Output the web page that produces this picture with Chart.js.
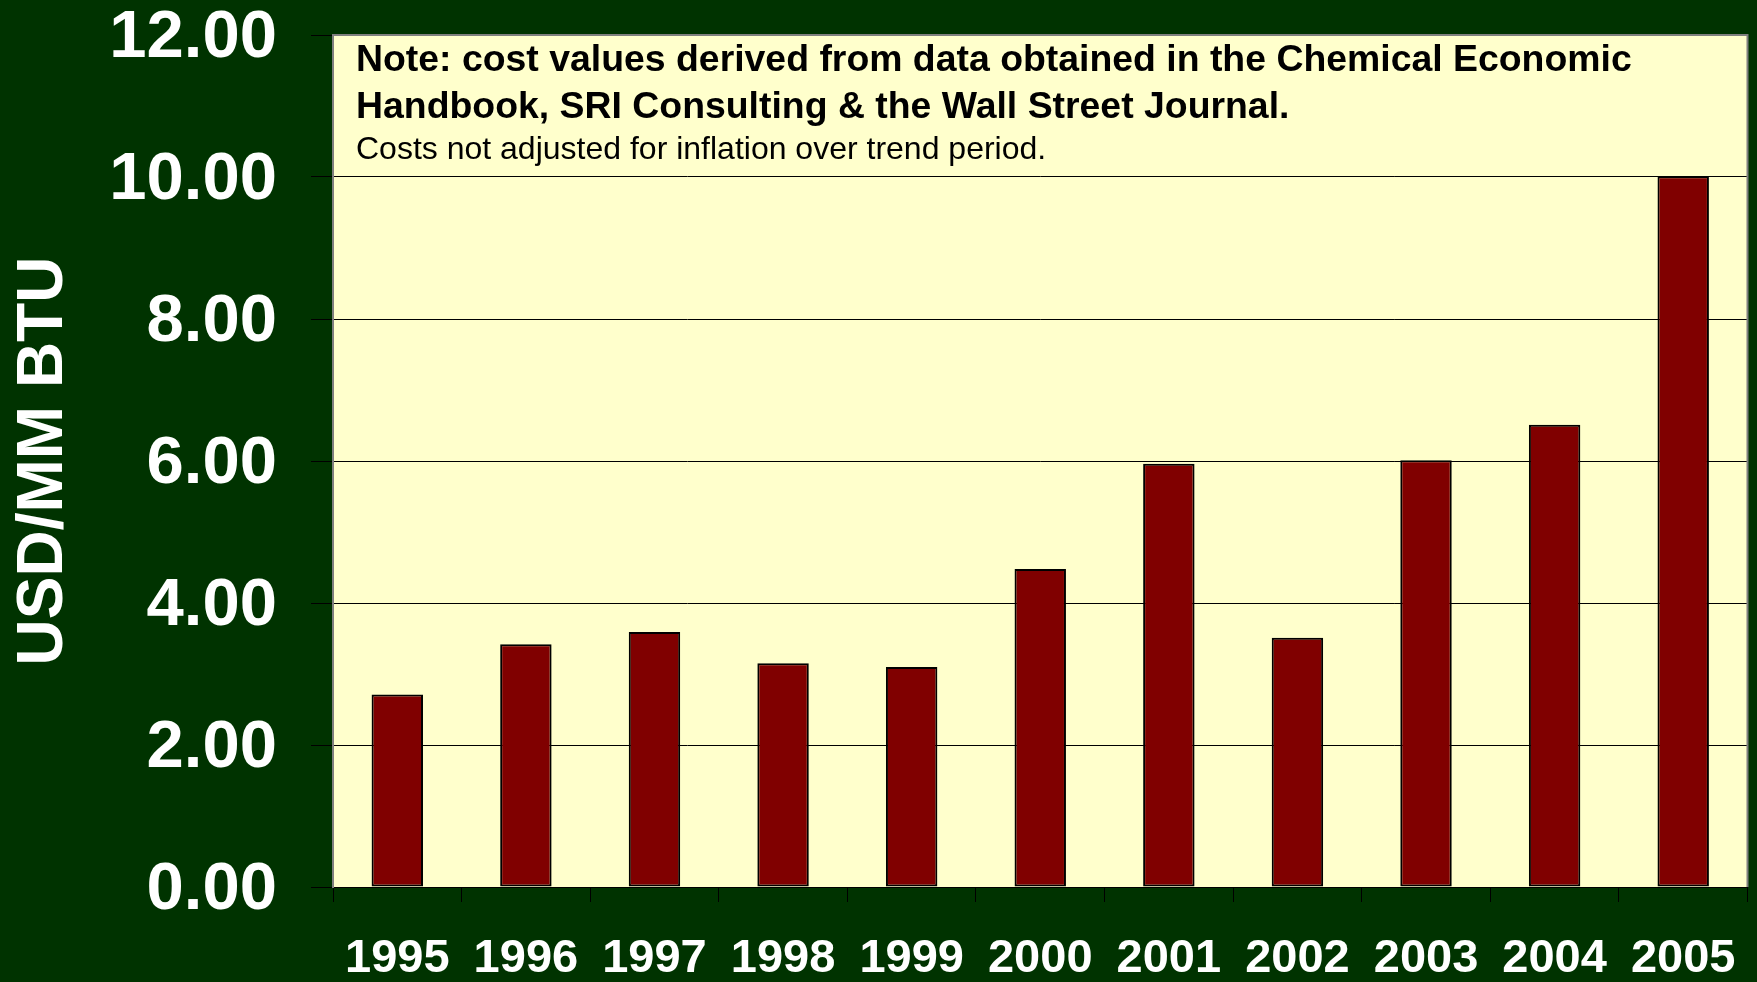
<!DOCTYPE html>
<html>
<head>
<meta charset="utf-8">
<script src="https://cdn.jsdelivr.net/npm/chart.js@4"></script>
<style>
  html, body { margin: 0; padding: 0; background: #003300; }
  #wrap { width: 1757px; height: 982px; }
  canvas { display: block; }
</style>
</head>
<body>
<div id="wrap"><canvas id="c" width="1757" height="982"></canvas></div>
<script>
// ---- data ----
const years = ['1995', '1996', '1997', '1998', '1999', '2000', '2001', '2002', '2003', '2004', '2005'];
const costs = [2.71, 3.42, 3.59, 3.15, 3.10, 4.48, 5.96, 3.51, 6.01, 6.51, 10.01];
const yTickValues = [0, 2, 4, 6, 8, 10, 12];
const yAxisTitle = 'USD/MM BTU';
const noteLines = [
  'Note: cost values derived from data obtained in the Chemical Economic',
  'Handbook, SRI Consulting & the Wall Street Journal.',
  'Costs not adjusted for inflation over trend period.'
];

const FONT = "'Liberation Sans', Arial, Helvetica, sans-serif";
Chart.defaults.font.family = FONT;

const plotArea = {
  id: 'plotArea',
  beforeDraw(chart) {
    const a = chart.chartArea, ctx = chart.ctx;
    ctx.save();
    ctx.fillStyle = '#FFFFCC';
    ctx.fillRect(a.left, a.top, a.right - a.left, a.bottom - a.top);
    ctx.restore();
  },
  afterDraw(chart) {
    const a = chart.chartArea, ctx = chart.ctx;
    ctx.save();
    ctx.strokeStyle = '#808080';
    ctx.lineWidth = 2;
    ctx.beginPath();
    ctx.moveTo(a.left, a.bottom);
    ctx.lineTo(a.left, a.top);
    ctx.lineTo(a.right, a.top);
    ctx.lineTo(a.right, a.bottom);
    ctx.stroke();
    // note text
    ctx.fillStyle = '#000000';
    ctx.textBaseline = 'alphabetic';
    ctx.textAlign = 'left';
    const x = a.left + 23;
    ctx.font = 'bold 37.4px ' + FONT;
    ctx.fillText(noteLines[0], x, a.top + 36);
    ctx.fillText(noteLines[1], x, a.top + 83);
    ctx.font = '32px ' + FONT;
    ctx.fillText(noteLines[2], x, a.top + 124);
    ctx.restore();
  }
};

new Chart(document.getElementById('c'), {
  type: 'bar',
  data: {
    labels: years,
    datasets: [{
      data: costs,
      backgroundColor: '#800000',
      borderColor: '#000000',
      borderWidth: 2,
      borderSkipped: false,
      barPercentage: 0.4,
      categoryPercentage: 1.0
    }]
  },
  options: {
    responsive: false,
    devicePixelRatio: 1,
    animation: false,
    layout: { padding: { top: 35, right: 9.5, left: 0, bottom: 0 } },
    plugins: {
      legend: { display: false },
      tooltip: { enabled: false },
      title: { display: false }
    },
    scales: {
      x: {
        offset: true,
        grid: {
          offset: true,
          drawOnChartArea: false,
          drawTicks: true,
          tickLength: 15,
          color: '#000000',
          lineWidth: 1
        },
        border: { display: true, color: '#000000', width: 1 },
        ticks: {
          color: '#FFFFFF',
          font: { size: 47, weight: 'bold', family: FONT, lineHeight: 2.43 },
          padding: 0,
          maxRotation: 0,
          autoSkip: false
        },
        afterFit(scale) {
          scale.height = 95;
          scale.paddingLeft = 0;
          scale.paddingRight = 0;
        }
      },
      y: {
        min: yTickValues[0],
        max: yTickValues[yTickValues.length - 1],
        afterBuildTicks(scale) { scale.ticks = yTickValues.map(v => ({ value: v })); },
        grid: {
          color: '#000000',
          lineWidth: 1,
          drawTicks: true,
          tickLength: 22
        },
        border: { display: true, color: '#808080', width: 2 },
        ticks: {
          color: '#FFFFFF',
          font: { size: 67, weight: 'bold', family: FONT, lineHeight: 1 },
          padding: 34,
          labelOffset: 4,
          callback: v => Number(v).toFixed(2)
        },
        title: {
          display: true,
          text: yAxisTitle,
          color: '#FFFFFF',
          font: { size: 64, weight: 'bold', family: FONT, lineHeight: 1 },
          padding: { top: 12, bottom: 0 }
        },
        afterFit(scale) {
          scale.width = 333;
          scale.paddingTop = 0;
          scale.paddingBottom = 0;
        }
      }
    }
  },
  plugins: [plotArea]
});
</script>
</body>
</html>
